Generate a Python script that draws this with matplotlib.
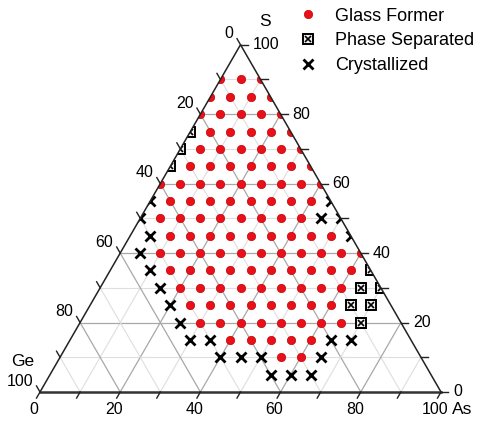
import numpy as np
import matplotlib
matplotlib.use('Agg')
import matplotlib.pyplot as plt
from matplotlib.patches import Polygon
from matplotlib.lines import Line2D
from matplotlib.legend_handler import HandlerTuple

plt.rcParams['font.family'] = ['Liberation Sans', 'DejaVu Sans']

# compositions in at.%  (Ge = 100 - As - S)
glass_as = [0, 5, 10,
            0, 5, 10, 15,
            0, 5, 10, 15, 20,
            5, 10, 15, 20, 25,
            5, 10, 15, 20, 25, 30,
            5, 10, 15, 20, 25, 30, 35,
            0, 5, 10, 15, 20, 25, 30, 35, 40,
            5, 10, 15, 20, 25, 30, 35, 40,
            5, 10, 15, 20, 25, 30, 35, 40,
            10, 15, 20, 25, 30, 35, 40, 45, 50,
            10, 15, 20, 25, 30, 35, 40, 45, 50, 55, 60,
            15, 20, 25, 30, 35, 40, 45, 50, 55, 60,
            20, 25, 30, 35, 40, 45, 50, 55, 60,
            25, 30, 35, 40, 45, 50, 55, 60,
            30, 35, 40, 45, 50, 55, 60, 65,
            40, 45, 50, 55, 60,
            55, 60]
glass_s = [90, 90, 90,
           85, 85, 85, 85,
           80, 80, 80, 80, 80,
           75, 75, 75, 75, 75,
           70, 70, 70, 70, 70, 70,
           65, 65, 65, 65, 65, 65, 65,
           60, 60, 60, 60, 60, 60, 60, 60, 60,
           55, 55, 55, 55, 55, 55, 55, 55,
           50, 50, 50, 50, 50, 50, 50, 50,
           45, 45, 45, 45, 45, 45, 45, 45, 45,
           40, 40, 40, 40, 40, 40, 40, 40, 40, 40, 40,
           35, 35, 35, 35, 35, 35, 35, 35, 35, 35,
           30, 30, 30, 30, 30, 30, 30, 30, 30,
           25, 25, 25, 25, 25, 25, 25, 25,
           20, 20, 20, 20, 20, 20, 20, 20,
           15, 15, 15, 15, 15,
           10, 10]

phase_as = [0, 0, 0, 65, 65, 70, 65, 70, 70]
phase_s = [75, 70, 65, 35, 30, 30, 25, 25, 20]

cryst_as = [0, 45, 0, 45, 50, 5, 55, 5, 10, 15, 20, 25,
            30, 35, 65, 70, 40, 45, 50, 65, 55, 60, 65]
cryst_s = [55, 55, 50, 50, 50, 45, 45, 40, 35, 30, 25, 20,
           15, 15, 15, 15, 10, 10, 10, 10, 5, 5, 5]

tick_vals = [0, 10, 20, 30, 40, 50, 60, 70, 80, 90, 100]
label_vals = [0, 20, 40, 60, 80, 100]
grid_vals = [10, 20, 30, 40, 50, 60, 70, 80, 90]

H = np.sqrt(3) / 2


def tern(a, s):
    a = np.asarray(a, dtype=float) / 100
    s = np.asarray(s, dtype=float) / 100
    return a + s / 2, s * H


fig = plt.figure(figsize=(4.78, 4.21), dpi=100)
ax = fig.add_axes([0, 0, 1, 1])
ax.set_xlim(-40 / 401, 438 / 401)
ax.set_ylim(-29 / 401, 392 / 401)
ax.axis('off')

# grid lines
for v in grid_vals:
    major = v % 20 == 0
    col = '#a8a8a8' if major else '#dedede'
    lw = 0.9 if major else 0.8
    for (a0, s0), (a1, s1) in [((0, v), (100 - v, v)),
                               ((v, 0), (v, 100 - v)),
                               ((0, 100 - v), (100 - v, 0))]:
        x, y = tern([a0, a1], [s0, s1])
        ax.plot(x, y, color=col, lw=lw, zorder=1)

# triangle outline
tri = Polygon([[0, 0], [1, 0], [0.5, H]], closed=True, facecolor='none',
              edgecolor='none', transform=ax.transData)
ax.add_patch(tri)
ax.plot([0, 0.5, 1], [0, H, 0], color='#222222', lw=1.1, zorder=5)
ax.plot([0, 1], [0, 0], color='#333333', lw=1.8, zorder=5)

# ticks
tl = 7 / 401
for t in tick_vals:
    # As (bottom)
    x, y = tern(t, 0)
    ax.plot([x, x - 0.5 * tl], [y, y - H * tl], color='#222222', lw=1.0, zorder=5)
    # S (right)
    x, y = tern(100 - t, t)
    ax.plot([x, x + tl], [y, y], color='#222222', lw=1.0, zorder=5)
    # Ge (left)
    x, y = tern(0, 100 - t)
    ax.plot([x, x - 0.5 * tl], [y, y + H * tl], color='#222222', lw=1.0, zorder=5)

fs = 11.5
for t in label_vals:
    ax.annotate(str(t), tern(t, 0), xytext=(-6, -18), textcoords='offset pixels',
                ha='center', va='center', fontsize=fs)
    ax.annotate(str(t), tern(100 - t, t), xytext=(12, 0), textcoords='offset pixels',
                ha='left', va='center', fontsize=fs)
    ax.annotate(str(t), tern(0, 100 - t), xytext=(-7, 11), textcoords='offset pixels',
                ha='right', va='center', fontsize=fs)

ax.annotate('As', tern(100, 0), xytext=(11, -18), textcoords='offset pixels',
            ha='left', va='center', fontsize=12.5)
ax.annotate('Ge', tern(0, 0), xytext=(-6, 30), textcoords='offset pixels',
            ha='right', va='center', fontsize=12.5)
ax.annotate('S', tern(0, 100), xytext=(25, 23), textcoords='offset pixels',
            ha='center', va='center', fontsize=12.5)

# data points
x, y = tern(glass_as, glass_s)
gf, = ax.plot(x, y, 'o', ms=6, color='#e8101a', mec='#c80000', mew=0.5,
              ls='none', zorder=3)
gf.set_clip_path(tri)

x, y = tern(phase_as, phase_s)
ps1, = ax.plot(x, y, 's', ms=7, mfc='#f0f0f0', mec='black', mew=1.4,
               ls='none', zorder=3)
ps2, = ax.plot(x, y, 'x', ms=5, color='black', mew=1.2, ls='none', zorder=3)
ps1.set_clip_path(tri)
ps2.set_clip_path(tri)

x, y = tern(cryst_as, cryst_s)
cr, = ax.plot(x, y, 'x', ms=7.5, color='black', mew=2.0, ls='none', zorder=3)
cr.set_clip_path(tri)

h_gf = Line2D([], [], marker='o', ms=6, color='#e8101a', mec='#c80000', mew=0.5, ls='none')
h_ps1 = Line2D([], [], marker='s', ms=7, mfc='#f0f0f0', mec='black', mew=1.4, ls='none')
h_ps2 = Line2D([], [], marker='x', ms=5, color='black', mew=1.2, ls='none')
h_cr = Line2D([], [], marker='x', ms=7.5, color='black', mew=2.0, ls='none')

fig.legend([h_gf, (h_ps1, h_ps2), h_cr],
           ['Glass Former', 'Phase Separated', 'Crystallized'],
           handler_map={tuple: HandlerTuple(ndivide=1)},
           loc='upper left', bbox_to_anchor=(294 / 478, 1 - 4 / 421),
           frameon=False, fontsize=13, handlelength=1.2, handletextpad=0.85,
           labelspacing=0.43, borderpad=0.2, borderaxespad=0)

fig.savefig('out.png', dpi=100)
